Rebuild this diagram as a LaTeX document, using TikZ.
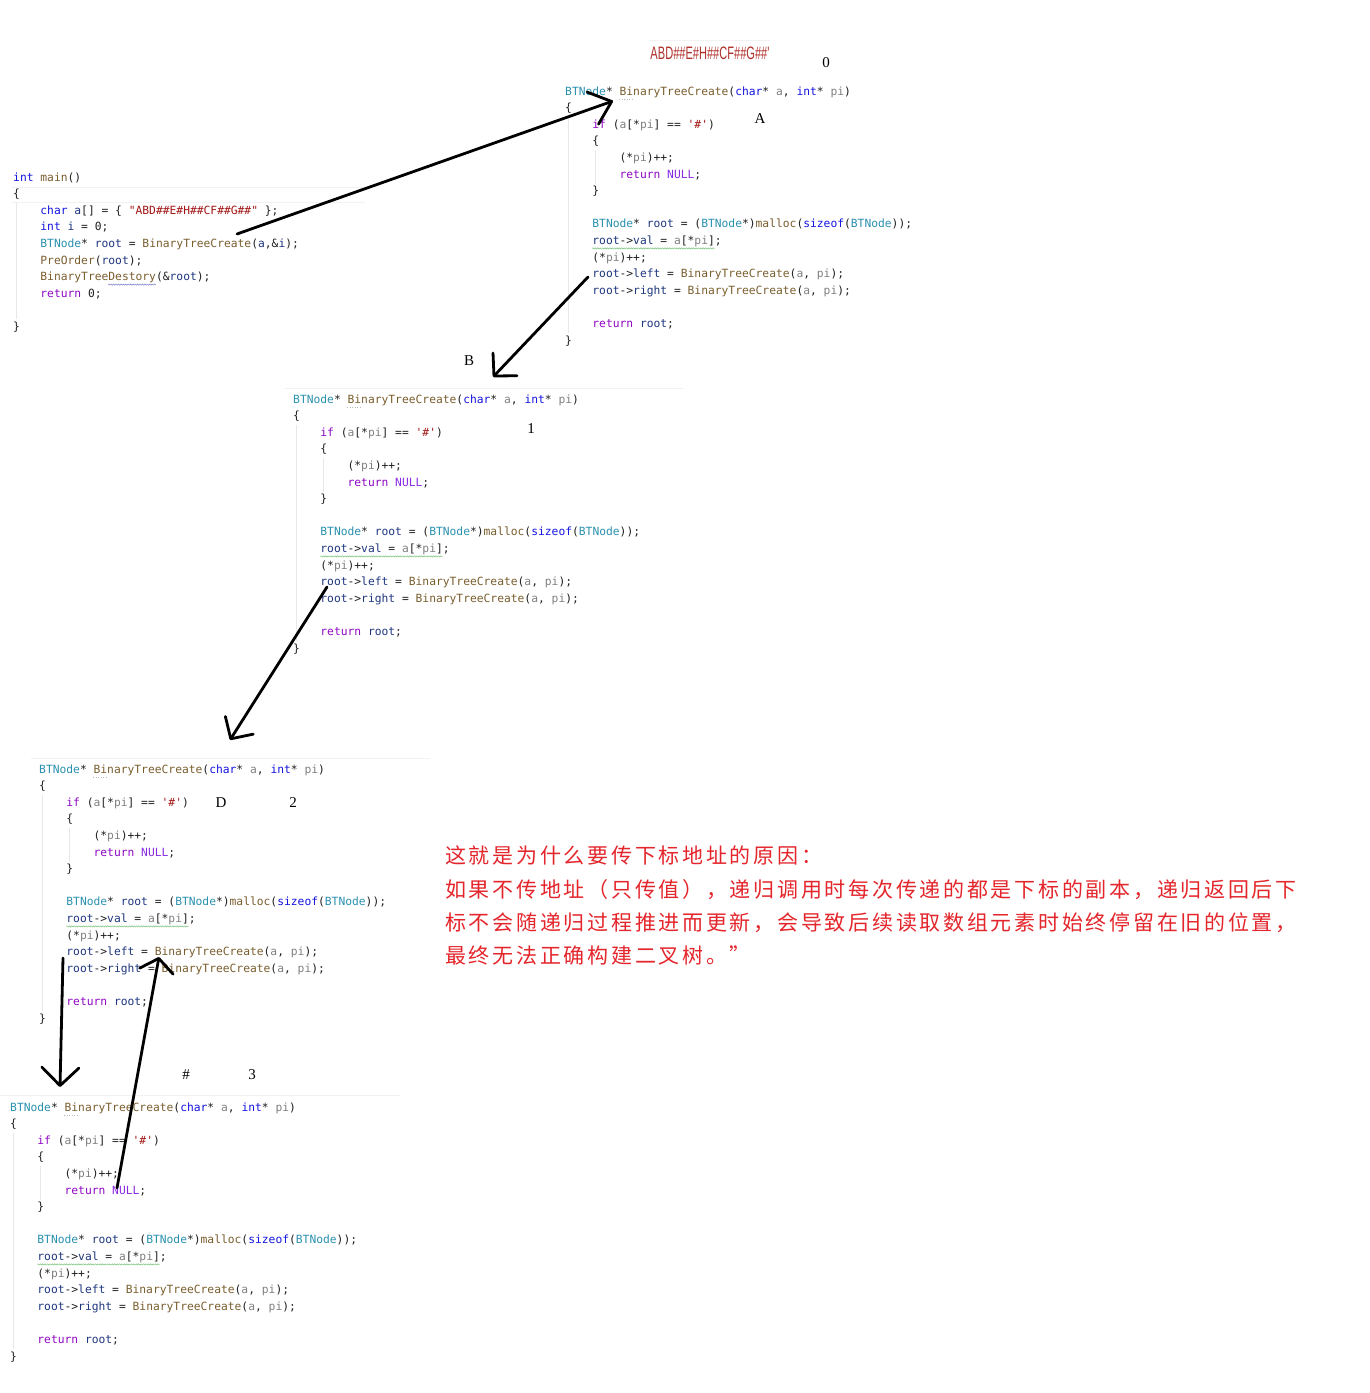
\documentclass[tikz,border=0pt]{standalone}
\usepackage{fontspec}
\usetikzlibrary{arrows.meta,decorations.pathmorphing}
\newfontfamily\codefont{DejaVu Sans Mono}[Ligatures=TeXOff]
\newfontfamily\cjkfont{Noto Sans CJK SC}[LetterSpace=13]
\newfontfamily\labfont{Liberation Serif}
\newfontfamily\strfont{Liberation Sans}[Ligatures=TeXOff]
\definecolor{cType}{HTML}{2B91AF}
\definecolor{cKw}{HTML}{1515E0}
\definecolor{cCtl}{HTML}{8F08C4}
\definecolor{cNul}{HTML}{8A2BE2}
\definecolor{cFn}{HTML}{7A5E2E}
\definecolor{cPar}{HTML}{808080}
\definecolor{cVar}{HTML}{1F377F}
\definecolor{cStr}{HTML}{A31515}
\definecolor{cText}{HTML}{202020}
\definecolor{cRed}{HTML}{E4262C}
\definecolor{cGreen}{HTML}{7CC47C}
\definecolor{cWave}{HTML}{8080D0}
\definecolor{cABD}{HTML}{B0302C}
\newcommand\kType[1]{\textcolor{cType}{#1}}
\newcommand\kKw[1]{\textcolor{cKw}{#1}}
\newcommand\kCtl[1]{\textcolor{cCtl}{#1}}
\newcommand\kNul[1]{\textcolor{cNul}{#1}}
\newcommand\kFn[1]{\textcolor{cFn}{#1}}
\newcommand\kPar[1]{\textcolor{cPar}{#1}}
\newcommand\kVar[1]{\textcolor{cVar}{#1}}
\newcommand\kStr[1]{\textcolor{cStr}{#1}}
\tikzset{
  code/.style={anchor=base west, inner sep=0pt, text=cText,
    font=\codefont\fontsize{11.3}{13}\selectfont},
  lab/.style={inner sep=0pt, text=black, font=\labfont\fontsize{15}{18}\selectfont},
  cn/.style={anchor=base west, inner sep=0pt, text=cRed,
    font=\cjkfont\fontsize{21}{24}\selectfont},
  hand/.style={line width=2.8pt, black, line cap=round, line join=round},
  guide/.style={draw=gray!18, line width=0.6pt},
  sep/.style={draw=gray!10, line width=0.8pt},
  wavy/.style={draw=#1, line width=0.5pt, decorate,
    decoration={snake, amplitude=0.6pt, segment length=2.4pt}},
  dotline/.style={draw=gray!55, line width=0.5pt, dotted}
}
\newcommand\codeln[4]{\node[code] (#1) at ({#2*6.8},{#3*16.6+4}) {#4};}
\newcommand\btcblock[3]{%
\begin{scope}[shift={(#2,#3)}]
\codeln{#1-0}{0}{0}{\kType{BTNode}* \kFn{BinaryTreeCreate}(\kKw{char}* \kPar{a}, \kKw{int}* \kPar{pi})}
\codeln{#1-1}{0}{1}{\{}
\codeln{#1-2}{4}{2}{\kCtl{if} (\kPar{a}[*\kPar{pi}] == \kStr{'\#'})}
\codeln{#1-3}{4}{3}{\{}
\codeln{#1-4}{8}{4}{(*\kPar{pi})++;}
\codeln{#1-5}{8}{5}{\kCtl{return} \kNul{NULL};}
\codeln{#1-6}{4}{6}{\}}
\codeln{#1-8}{4}{8}{\kType{BTNode}* \kVar{root} = (\kType{BTNode}*)\kFn{malloc}(\kKw{sizeof}(\kType{BTNode}));}
\codeln{#1-9}{4}{9}{\kVar{root}->\kVar{val} = \kPar{a}[*\kPar{pi}];}
\codeln{#1-10}{4}{10}{(*\kPar{pi})++;}
\codeln{#1-11}{4}{11}{\kVar{root}->\kVar{left} = \kFn{BinaryTreeCreate}(\kPar{a}, \kPar{pi});}
\codeln{#1-12}{4}{12}{\kVar{root}->\kVar{right} = \kFn{BinaryTreeCreate}(\kPar{a}, \kPar{pi});}
\codeln{#1-14}{4}{14}{\kCtl{return} \kVar{root};}
\codeln{#1-15}{0}{15}{\}}
\draw[guide] (3,{16.6+9}) -- (3,{15*16.6-7});
\draw[guide] ({4*6.8+3},{3*16.6+9}) -- ({4*6.8+3},{6*16.6-7});
\draw[wavy=cGreen] ({4*6.8},{9*16.6+8}) -- ({22*6.8},{9*16.6+8});
\draw[dotline] ({8*6.8},8) -- ({10*6.8},8);
\end{scope}}
\begin{document}
\begin{tikzpicture}[x=1pt,y=-1pt]
\fill[white] (0,0) rectangle (1370,1393);
\useasboundingbox (0,0) rectangle (1370,1393);

% faint separators
\draw[sep] (650,40) -- (770,40);
\draw[sep] (285,388) -- (683,388);
\draw[sep] (31,758) -- (430,758);
\draw[sep] (0,1095) -- (400,1095);
\draw[sep] (12,187) -- (365,187);
\draw[sep] (12,202) -- (365,202);

% main
\begin{scope}[shift={(13,177)}]
\codeln{m0}{0}{0}{\kKw{int} \kFn{main}()}
\codeln{m1}{0}{1}{\{}
\codeln{m2}{4}{2}{\kKw{char} \kVar{a}[] = \{ \kStr{"ABD\#\#E\#H\#\#CF\#\#G\#\#"} \};}
\codeln{m3}{4}{3}{\kKw{int} \kVar{i} = 0;}
\codeln{m4}{4}{4}{\kType{BTNode}* \kVar{root} = \kFn{BinaryTreeCreate}(\kVar{a},\&\kVar{i});}
\codeln{m5}{4}{5}{\kFn{PreOrder}(\kVar{root});}
\codeln{m6}{4}{6}{\kFn{BinaryTreeDestory}(\&\kVar{root});}
\codeln{m7}{4}{7}{\kCtl{return} 0;}
\codeln{m9}{0}{9}{\}}
\draw[guide] (3,{16.6+9}) -- (3,{9*16.6-7});
\draw[wavy=cWave] ({14*6.8},{6*16.6+8}) -- ({21*6.8},{6*16.6+8});
\end{scope}

% recursive blocks
\btcblock{top}{565}{91}
\btcblock{b1}{293}{399}
\btcblock{b2}{39}{769}
\btcblock{b3}{10}{1107}

% string at top
\node[inner sep=0pt, text=cABD, xscale=0.615,
  font=\strfont\fontsize{18}{20}\selectfont] (abd) at (710,53) {ABD\#\#E\#H\#\#CF\#\#G\#\#'};

% handwritten labels
\node[lab] (l0) at (826,63) {0};
\node[lab] (lA) at (760,119) {A};
\node[lab] (lB) at (469,361) {B};
\node[lab] (l1) at (531,429) {1};
\node[lab] (lD) at (221,803) {D};
\node[lab] (l2) at (293,803) {2};
\node[lab] (lh) at (186,1075) {\#};
\node[lab] (l3) at (252,1075) {3};

% explanation
\node[cn] (c1) at (445,863) {这就是为什么要传下标地址的原因：};
\node[cn] (c2) at (445,897) {如果不传地址（只传值），递归调用时每次传递的都是下标的副本，递归返回后下};
\node[cn] (c3) at (445,930) {标不会随递归过程推进而更新，会导致后续读取数组元素时始终停留在旧的位置，};
\node[cn] (c4) at (445,963) {最终无法正确构建二叉树。”};

% arrows
\coordinate (a1s) at (237,234); \coordinate (a1e) at (613,101);
\coordinate (a2s) at (588,277); \coordinate (a2e) at (493,377);
\coordinate (a3s) at (327,587); \coordinate (a3e) at (230,740);
\coordinate (a4s) at (63,958);  \coordinate (a4e) at (60,1087);
\coordinate (a5s) at (117,1188); \coordinate (a5e) at (159,957);
\draw[hand, -{Straight Barb[round,length=20pt,width=34pt]}] (a1s) -- (a1e);
\draw[hand, -{Straight Barb[round,length=16pt,width=33pt]}] (a2s) -- (a2e);
\draw[hand, -{Straight Barb[round,length=16pt,width=33pt]}] (a3s) -- (a3e);
\draw[hand, -{Straight Barb[round,length=18pt,width=37pt]}] (a4s) -- (a4e);
\draw[hand, -{Straight Barb[round,length=13pt,width=34pt]}] (a5s) -- (a5e);
\end{tikzpicture}
\end{document}
